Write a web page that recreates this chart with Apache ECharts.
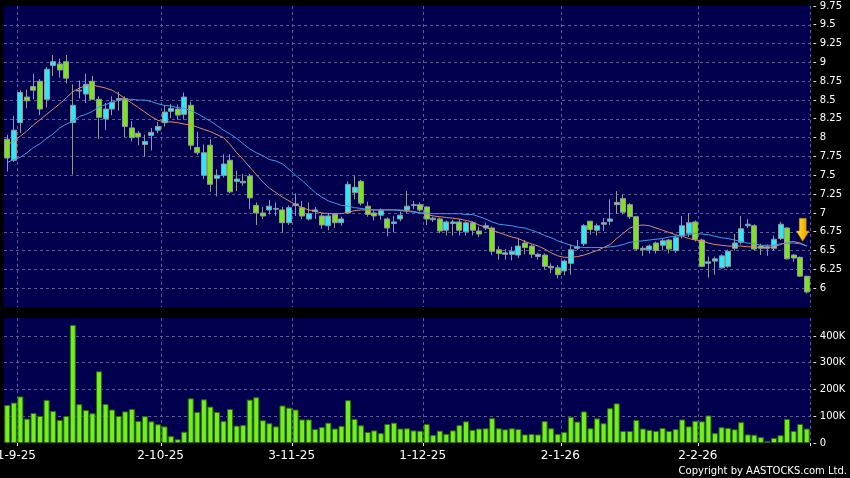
<!DOCTYPE html>
<html>
<head>
<meta charset="utf-8">
<title>Daily chart</title>
<script src="https://cdn.jsdelivr.net/npm/echarts@6/dist/echarts.min.js"></script>
<style>
  html, body { margin: 0; padding: 0; background: #000; }
  #chart { width: 850px; height: 478px; }
</style>
</head>
<body>
<div id="chart"></div>
<script>
// trading days (d-m-yy)
const categories = [
  '28-8-25', '29-8-25',
  '1-9-25', '2-9-25', '3-9-25', '4-9-25', '5-9-25', '8-9-25', '9-9-25', '10-9-25', '11-9-25', '12-9-25',
  '15-9-25', '16-9-25', '17-9-25', '18-9-25', '19-9-25', '22-9-25', '23-9-25', '24-9-25', '25-9-25', '26-9-25',
  '29-9-25', '30-9-25',
  '2-10-25', '3-10-25', '6-10-25', '8-10-25', '9-10-25', '10-10-25', '13-10-25', '14-10-25', '15-10-25', '16-10-25',
  '17-10-25', '20-10-25', '21-10-25', '22-10-25', '23-10-25', '24-10-25', '27-10-25', '28-10-25', '30-10-25', '31-10-25',
  '3-11-25', '4-11-25', '5-11-25', '6-11-25', '7-11-25', '10-11-25', '11-11-25', '12-11-25', '13-11-25', '14-11-25',
  '17-11-25', '18-11-25', '19-11-25', '20-11-25', '21-11-25', '24-11-25', '25-11-25', '26-11-25', '27-11-25', '28-11-25',
  '1-12-25', '2-12-25', '3-12-25', '4-12-25', '5-12-25', '8-12-25', '9-12-25', '10-12-25', '11-12-25', '12-12-25',
  '15-12-25', '16-12-25', '17-12-25', '18-12-25', '19-12-25', '22-12-25', '23-12-25', '24-12-25', '29-12-25', '30-12-25',
  '31-12-25',
  '2-1-26', '5-1-26', '6-1-26', '7-1-26', '8-1-26', '9-1-26', '12-1-26', '13-1-26', '14-1-26', '15-1-26',
  '16-1-26', '19-1-26', '20-1-26', '21-1-26', '22-1-26', '23-1-26', '26-1-26', '27-1-26', '28-1-26', '29-1-26',
  '30-1-26',
  '2-2-26', '3-2-26', '4-2-26', '5-2-26', '6-2-26', '9-2-26', '10-2-26', '11-2-26', '12-2-26', '13-2-26',
  '16-2-26', '20-2-26', '23-2-26', '24-2-26', '25-2-26', '26-2-26', '27-2-26'
]

const tickLabels = ['1-9-25', '2-10-25', '3-11-25', '1-12-25', '2-1-26', '2-2-26']

// [open, close, low, high]
const candles = [
  [7.98, 7.73, 7.55, 8.04], [7.70, 8.10, 7.68, 8.29], [8.20, 8.60, 8.06, 8.63], [8.54, 8.49, 8.39, 8.64],
  [8.68, 8.63, 8.51, 8.85], [8.75, 8.38, 8.30, 8.78], [8.51, 8.91, 8.40, 8.94], [8.96, 9.01, 8.82, 9.10],
  [8.98, 8.90, 8.80, 9.05], [9.01, 8.79, 8.72, 9.10], [8.20, 8.43, 7.51, 8.71], [8.62, 8.63, 8.52, 8.76],
  [8.58, 8.71, 8.46, 8.85], [8.75, 8.51, 8.50, 8.82], [8.51, 8.27, 7.98, 8.55], [8.25, 8.38, 8.10, 8.46],
  [8.38, 8.47, 8.30, 8.55], [8.50, 8.52, 8.36, 8.61], [8.52, 8.15, 8.01, 8.55], [8.13, 8.00, 7.95, 8.22],
  [8.06, 8.01, 7.90, 8.09], [7.91, 7.95, 7.75, 8.04], [8.03, 8.07, 7.83, 8.13], [8.10, 8.15, 8.06, 8.21],
  [8.20, 8.34, 8.15, 8.43], [8.35, 8.39, 8.26, 8.45], [8.38, 8.30, 8.24, 8.44], [8.31, 8.54, 8.24, 8.60],
  [8.43, 7.90, 7.84, 8.48], [7.87, 7.80, 7.77, 8.08], [7.50, 7.80, 7.45, 7.91], [7.90, 7.38, 7.28, 7.98],
  [7.46, 7.50, 7.22, 7.58], [7.50, 7.65, 7.47, 7.78], [7.70, 7.28, 7.26, 7.78], [7.42, 7.45, 7.29, 7.56],
  [7.40, 7.42, 7.36, 7.52], [7.49, 7.20, 7.05, 7.52], [7.10, 7.00, 6.84, 7.14], [7.00, 6.96, 6.92, 7.08],
  [7.04, 7.09, 6.98, 7.17], [7.05, 7.06, 6.96, 7.14], [7.04, 6.87, 6.74, 7.08], [6.87, 7.07, 6.84, 7.10],
  [7.10, 7.12, 6.96, 7.26], [7.07, 6.96, 6.92, 7.16], [6.92, 6.99, 6.90, 7.14], [7.02, 7.04, 6.92, 7.08],
  [6.96, 6.84, 6.79, 7.00], [6.83, 6.96, 6.77, 7.00], [6.98, 6.87, 6.80, 7.00], [6.87, 6.92, 6.83, 6.95],
  [7.00, 7.38, 7.00, 7.42], [7.27, 7.34, 7.18, 7.49], [7.42, 7.13, 7.10, 7.44], [7.09, 6.98, 6.95, 7.15],
  [7.00, 6.96, 6.90, 7.04], [6.97, 7.03, 6.91, 7.06], [6.92, 6.80, 6.69, 6.94], [6.86, 6.88, 6.74, 6.96],
  [6.92, 6.97, 6.89, 7.02], [7.04, 7.09, 7.00, 7.29], [7.10, 7.11, 7.05, 7.16], [7.11, 7.04, 7.02, 7.14],
  [7.08, 6.92, 6.84, 7.09], [6.91, 6.93, 6.88, 6.95], [6.92, 6.76, 6.73, 6.94], [6.77, 6.88, 6.70, 6.90],
  [6.86, 6.88, 6.70, 6.91], [6.88, 6.77, 6.70, 6.92], [6.75, 6.87, 6.70, 6.89], [6.87, 6.77, 6.70, 6.89],
  [6.76, 6.72, 6.68, 6.82], [6.80, 6.83, 6.77, 6.87], [6.80, 6.49, 6.44, 6.82], [6.51, 6.46, 6.38, 6.56],
  [6.45, 6.47, 6.38, 6.52], [6.45, 6.49, 6.37, 6.55], [6.44, 6.56, 6.40, 6.66], [6.60, 6.54, 6.45, 6.64],
  [6.56, 6.45, 6.40, 6.58], [6.42, 6.45, 6.38, 6.47], [6.44, 6.29, 6.25, 6.46], [6.27, 6.29, 6.20, 6.33],
  [6.27, 6.18, 6.13, 6.31], [6.23, 6.36, 6.17, 6.38], [6.33, 6.51, 6.18, 6.58], [6.53, 6.55, 6.51, 6.64],
  [6.59, 6.83, 6.56, 6.85], [6.89, 6.78, 6.71, 6.89], [6.77, 6.83, 6.70, 6.86], [6.85, 6.87, 6.76, 6.93],
  [6.89, 6.92, 6.84, 7.18], [7.11, 7.14, 6.99, 7.29], [7.19, 7.01, 6.98, 7.25], [7.11, 6.95, 6.92, 7.13],
  [6.95, 6.52, 6.50, 6.96], [6.51, 6.53, 6.43, 6.56], [6.51, 6.56, 6.46, 6.58], [6.60, 6.50, 6.46, 6.62],
  [6.57, 6.63, 6.50, 6.65], [6.64, 6.52, 6.46, 6.65], [6.50, 6.67, 6.47, 6.70], [6.70, 6.83, 6.66, 6.96],
  [6.73, 6.87, 6.68, 7.00], [6.88, 6.65, 6.62, 6.90], [6.64, 6.29, 6.28, 6.66], [6.33, 6.35, 6.14, 6.42],
  [6.36, 6.39, 6.18, 6.42], [6.27, 6.43, 6.26, 6.45], [6.29, 6.49, 6.27, 6.51], [6.53, 6.60, 6.50, 6.72],
  [6.61, 6.79, 6.58, 6.96], [6.83, 6.85, 6.80, 6.92], [6.83, 6.52, 6.50, 6.85], [6.56, 6.53, 6.44, 6.59],
  [6.53, 6.55, 6.43, 6.58], [6.53, 6.65, 6.50, 6.70], [6.66, 6.85, 6.64, 6.88], [6.80, 6.39, 6.38, 6.81],
  [6.44, 6.40, 6.35, 6.45], [6.41, 6.16, 6.15, 6.42], [6.16, 5.95, 5.93, 6.16]
]

// moving averages as drawn
const maFast = [
  7.90, 7.96, 8.02, 8.09, 8.17, 8.24, 8.31, 8.38, 8.45, 8.53,
  8.61, 8.66, 8.69, 8.70, 8.68, 8.66, 8.63, 8.58, 8.52, 8.46,
  8.40, 8.34, 8.28, 8.23, 8.21, 8.21, 8.20, 8.18, 8.17, 8.14,
  8.11, 8.08, 8.04, 8.00, 7.91, 7.80, 7.71, 7.61, 7.51, 7.41,
  7.33, 7.27, 7.21, 7.16, 7.11, 7.07, 7.04, 7.02, 7.00, 6.99,
  6.99, 6.99, 7.01, 7.03, 7.04, 7.04, 7.04, 7.04, 7.04, 7.04,
  7.04, 7.03, 7.02, 7.00, 6.98, 6.96, 6.95, 6.94, 6.93, 6.92,
  6.90, 6.88, 6.84, 6.81, 6.77, 6.74, 6.71, 6.68, 6.66, 6.62,
  6.59, 6.56, 6.52, 6.47, 6.43, 6.41, 6.41, 6.42, 6.44, 6.47,
  6.50, 6.54, 6.58, 6.66, 6.73, 6.80, 6.83, 6.84, 6.83, 6.80,
  6.77, 6.74, 6.71, 6.69, 6.66, 6.64, 6.63, 6.60, 6.58, 6.57,
  6.56, 6.56, 6.56, 6.55, 6.55, 6.54, 6.54, 6.55, 6.58, 6.61,
  6.62, 6.60, 6.56
]

const maSlow = [
  7.67, 7.71, 7.74, 7.80, 7.87, 7.92, 7.99, 8.05, 8.13, 8.18,
  8.22, 8.28, 8.31, 8.35, 8.41, 8.44, 8.47, 8.50, 8.51, 8.51,
  8.50, 8.50, 8.48, 8.45, 8.43, 8.42, 8.40, 8.39, 8.36, 8.32,
  8.27, 8.22, 8.16, 8.10, 8.05, 7.99, 7.92, 7.85, 7.80, 7.76,
  7.71, 7.69, 7.65, 7.58, 7.50, 7.43, 7.35, 7.27, 7.21, 7.16,
  7.13, 7.10, 7.09, 7.07, 7.06, 7.05, 7.04, 7.04, 7.04, 7.04,
  7.03, 7.02, 7.01, 7.00, 7.00, 6.99, 6.99, 6.99, 6.99, 6.99,
  6.98, 6.98, 6.95, 6.92, 6.88, 6.85, 6.84, 6.83, 6.81, 6.80,
  6.77, 6.74, 6.70, 6.67, 6.63, 6.60, 6.57, 6.55, 6.54, 6.54,
  6.54, 6.54, 6.55, 6.56, 6.58, 6.61, 6.62, 6.63, 6.64, 6.65,
  6.66, 6.68, 6.69, 6.70, 6.71, 6.73, 6.72, 6.71, 6.69, 6.67,
  6.66, 6.64, 6.62, 6.60, 6.59, 6.57, 6.57, 6.57, 6.59, 6.60,
  6.60, 6.59, 6.56
]

// volume, thousands of shares
const volumesK = [
  142, 151, 174, 91, 112, 101, 161, 120, 86, 101,
  441, 145, 123, 111, 268, 146, 125, 101, 118, 127,
  82, 100, 81, 70, 62, 26, 14, 42, 167, 116,
  163, 136, 116, 82, 127, 65, 67, 162, 171, 85,
  74, 62, 140, 132, 125, 88, 88, 52, 60, 76,
  54, 64, 160, 90, 66, 41, 47, 37, 71, 76,
  54, 55, 47, 46, 71, 30, 46, 34, 47, 67,
  81, 49, 54, 55, 93, 55, 51, 55, 52, 32,
  34, 32, 82, 55, 34, 41, 98, 80, 118, 55,
  92, 74, 130, 148, 45, 45, 86, 54, 49, 45,
  56, 45, 52, 88, 62, 83, 81, 103, 37, 59,
  56, 51, 78, 32, 31, 22, 7, 19, 29, 90,
  45, 71, 54
]

const gridLine = { color: '#5a5a94', type: [3, 3], width: 1 }
const isTick = (index) => tickLabels.includes(categories[index])

const chart = echarts.init(document.getElementById('chart'))

const option = {
  animation: false,
  backgroundColor: '#000',
  textStyle: { fontFamily: 'DejaVu Sans' },
  grid: [
    { left: 4, right: 40, top: 6, height: 301, show: true, backgroundColor: '#00004f', borderWidth: 0, outerBoundsMode: 'none' },
    { left: 4, right: 40, top: 318, height: 125, show: true, backgroundColor: '#00004f', borderWidth: 0, outerBoundsMode: 'none' }
  ],
  xAxis: [
    {
      type: 'category',
      gridIndex: 0,
      data: categories,
      axisLine: { show: false },
      axisTick: { show: false },
      axisLabel: { show: false },
      splitLine: { show: true, interval: isTick, lineStyle: gridLine }
    },
    {
      type: 'category',
      gridIndex: 1,
      data: categories,
      offset: 3,
      axisLine: { show: false },
      axisTick: { show: true, interval: isTick, length: 3, lineStyle: { color: '#fff' } },
      axisLabel: {
        interval: isTick,
        color: '#fff',
        fontSize: 12,
        margin: 4,
        padding: [0, 8, 0, 0]
      },
      splitLine: { show: true, interval: isTick, lineStyle: gridLine }
    }
  ],
  yAxis: [
    {
      type: 'value',
      gridIndex: 0,
      position: 'right',
      min: 5.75,
      max: 9.75,
      interval: 0.25,
      axisLine: { show: false },
      axisTick: { show: false },
      axisLabel: {
        color: '#fff',
        fontSize: 10,
        margin: 3,
        showMinLabel: false,
        formatter: (v) => '- ' + v
      },
      splitLine: { show: true, showMinLine: false, showMaxLine: false, lineStyle: gridLine }
    },
    {
      type: 'value',
      gridIndex: 1,
      position: 'right',
      min: 0,
      max: 467,
      interval: 100,
      axisLine: { show: false },
      axisTick: { show: false },
      axisLabel: {
        color: '#fff',
        fontSize: 10,
        margin: 3,
        showMaxLabel: false,
        formatter: (v) => '- ' + (v === 0 ? '0' : v + 'K')
      },
      splitLine: { show: true, showMinLine: false, showMaxLine: false, lineStyle: gridLine }
    }
  ],
  series: [
    {
      name: 'Price',
      type: 'candlestick',
      xAxisIndex: 0,
      yAxisIndex: 0,
      data: candles,
      barWidth: 5.5,
      itemStyle: {
        color: '#30e8f4',
        color0: '#7ce41c',
        borderColor: '#8e9aa0',
        borderColor0: '#8e9aa0',
        borderColorDoji: '#8e9aa0',
        borderWidth: 1
      },
      markPoint: {
        symbol: 'path://M3,0 L10,0 L10,12 L13,12 L6.5,22 L0,12 L3,12 Z',
        symbolSize: [13, 23],
        symbolOffset: [-4, 0],
        label: { show: false },
        itemStyle: {
          color: new echarts.graphic.LinearGradient(0, 0, 1, 0, [
            { offset: 0, color: '#ffe25a' },
            { offset: 0.5, color: '#f8c000' },
            { offset: 1, color: '#d89a00' }
          ]),
          borderColor: '#b07800',
          borderWidth: 0.5
        },
        data: [{ coord: [categories[categories.length - 1], 6.775] }]
      }
    },
    {
      name: 'MA fast',
      type: 'line',
      xAxisIndex: 0,
      yAxisIndex: 0,
      data: maFast,
      symbol: 'none',
      lineStyle: { color: '#e08a66', width: 1 }
    },
    {
      name: 'MA slow',
      type: 'line',
      xAxisIndex: 0,
      yAxisIndex: 0,
      data: maSlow,
      symbol: 'none',
      lineStyle: { color: '#3c9ce8', width: 1 }
    },
    {
      name: 'Volume',
      type: 'bar',
      xAxisIndex: 1,
      yAxisIndex: 1,
      data: volumesK,
      barWidth: 6,
      itemStyle: { color: '#74ee20', borderColor: '#2c6e00', borderWidth: 1 }
    }
  ],
  graphic: [
    {
      type: 'text',
      right: 3,
      bottom: 2,
      style: {
        text: 'Copyright by AASTOCKS.com Ltd.',
        fill: '#fff',
        font: '10px DejaVu Sans'
      }
    }
  ]
}

chart.setOption(option)
</script>
</body>
</html>
